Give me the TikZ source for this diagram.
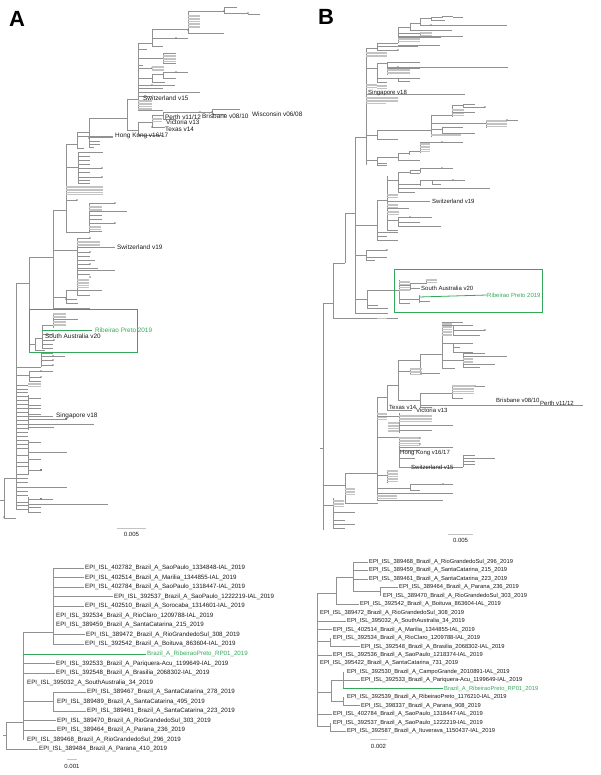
\documentclass[tikz,border=0pt]{standalone}
\usepackage{fontspec}
\setmainfont{Liberation Sans}
\usepackage{xcolor}
\usepackage{tikz}
\usetikzlibrary{positioning}
\definecolor{brgray}{RGB}{145,145,145}
\definecolor{stgray}{RGB}{195,195,195}
\definecolor{rpgreen}{RGB}{52,168,90}
\definecolor{lbgray}{RGB}{25,25,25}
% tree helpers: vertical, horizontal, stack of collapsed tips, node dot
\newcommand{\vl}[3]{\draw[br] (#1,#2) -- (#1,#3);}
\newcommand{\hl}[3]{\draw[br] (#2,#1) -- (#3,#1);}
\newcommand{\stk}[4]{\foreach \k in {1,...,#3} \draw[st] (#1,{#2+1.6*(\k-1)}) -- ++(#4,0);}
\newcommand{\nd}[2]{\fill[brgray!85!black] (#1,#2) circle (0.9pt);}

\begin{document}
\begin{tikzpicture}[x=1pt, y=-1pt,
  br/.style={draw=brgray, line width=0.45pt},
  st/.style={draw=stgray, line width=0.8pt},
  hi/.style={draw=rpgreen, line width=0.8pt},
  lab/.style={anchor=west, inner sep=0pt, text=lbgray, font=\fontsize{6.4}{7}\selectfont},
  labB/.style={lab, font=\fontsize{6.0}{7}\selectfont},
  leafL/.style={anchor=west, inner xsep=1.5pt, inner ysep=0pt, text=lbgray, font=\fontsize{6.2}{7}\selectfont},
  leafR/.style={leafL, font=\fontsize{5.8}{7}\selectfont},
  panel/.style={font=\fontsize{22}{22}\selectfont\bfseries},
  scl/.style={text=lbgray, font=\fontsize{6}{7}\selectfont}]
\useasboundingbox (0,0) rectangle (600,775);

\node[panel] (pA) at (17,19) {A};
\node[panel] (pB) at (326,17) {B};

% ---------------- tree A ----------------
\vl{4}{478}{518} \hl{500}{0}{4} \hl{478}{4}{16} \hl{518}{4}{16} \nd{4}{517}
\vl{16}{283}{509}
\hl{283}{16}{29} \vl{29}{257}{344}
\hl{257}{29}{53} \vl{53}{210}{308}
\hl{210}{53}{66} \vl{66}{144}{232}
\hl{144}{66}{77} \vl{77}{132}{148}
\hl{132}{77}{89} \vl{89}{118}{147}
\hl{118}{89}{127} \vl{127}{99}{130}
\hl{99}{127}{138} \vl{138}{43}{110}
\hl{43}{138}{152} \vl{152}{29}{47}
\hl{29}{152}{188} \vl{188}{11}{33}
\hl{11}{188}{224} \vl{224}{7}{13} \nd{224}{11}
\hl{7}{224}{237} \hl{13}{224}{248} \nd{248}{13} \hl{14}{248}{260}
\stk{188}{15}{9}{12} \hl{33}{188}{224} \nd{188}{30}
\hl{38}{152}{188} \nd{176}{38} \hl{46}{152}{163}
\hl{49}{138}{147}
\hl{58}{138}{163} \vl{163}{53}{63} \hl{53}{163}{176} \hl{63}{163}{176} \stk{163}{55}{5}{13}
\hl{65}{138}{143}
\hl{68}{138}{152} \nd{152}{68} \stk{152}{66}{4}{12}
\hl{78}{138}{152} \vl{152}{74}{82} \hl{74}{152}{163} \vl{163}{72}{78}
\hl{72}{163}{188} \nd{176}{72} \hl{78}{163}{176} \hl{82}{152}{165}
\hl{85}{138}{152} \nd{152}{85} \hl{85}{152}{175}
\hl{88}{138}{163} \hl{92}{138}{200} \hl{96}{138}{152}
\stk{138}{100}{7}{14} \hl{110}{138}{163}
% Perth / Brisbane clade
\hl{130}{127}{138} \vl{138}{122}{135}
\hl{122}{138}{152} \vl{152}{115}{127}
\hl{115}{152}{163} \vl{163}{112}{119}
\hl{112}{163}{200} \nd{200}{112} \hl{112}{200}{212} \vl{212}{109}{114} \nd{212}{112}
\hl{109}{212}{240} \hl{114}{212}{226}
\hl{119}{163}{176} \stk{152}{118}{3}{10}
\hl{127}{152}{165} \nd{152}{127}
\hl{135}{138}{163}
% Hong Kong area
\hl{136}{77}{113} \hl{148}{77}{84}
\hl{137}{89}{113} \nd{89}{138} \hl{141}{89}{100} \hl{144}{89}{100} \hl{147}{89}{94}
\hl{167}{66}{78} \vl{78}{152}{183}
\hl{152}{78}{103} \hl{156}{78}{90} \hl{160}{78}{90} \hl{164}{78}{90}
\hl{168}{78}{102} \nd{102}{168} \hl{172}{78}{90} \hl{177}{78}{102} \nd{102}{177}
\hl{180}{78}{90} \hl{183}{78}{90}
\stk{66}{186}{6}{37}
\hl{200}{66}{77} \nd{77}{200}
\hl{232}{66}{89} \vl{89}{203}{233}
\hl{203}{89}{115} \nd{115}{203} \stk{89}{206}{4}{13}
\hl{211}{89}{127} \hl{215}{89}{102} \hl{219}{89}{102}
\hl{223}{89}{115} \nd{115}{223} \stk{89}{226}{3}{12} \hl{231}{89}{102}
% Switzerland v19 clade
\hl{250}{53}{77} \vl{77}{238}{295}
\hl{238}{77}{90} \nd{90}{238} \stk{77}{241}{5}{23}
\hl{247}{77}{115}
\hl{252}{77}{90} \nd{90}{252} \hl{256}{77}{90} \hl{260}{77}{95}
\hl{264}{77}{90} \nd{90}{264} \hl{268}{77}{98} \hl{270}{77}{115}
\hl{274}{77}{90} \nd{90}{277} \stk{77}{279}{6}{12}
\hl{290}{77}{102} \hl{295}{77}{90}
\hl{297}{53}{66} \vl{66}{290}{303}
\hl{290}{66}{90} \hl{299}{66}{77} \nd{66}{299} \hl{303}{66}{78}
\hl{308}{53}{90}
% boxed clade
\hl{344}{29}{35} \vl{35}{338}{350} \hl{350}{35}{45}
\hl{338}{35}{42} \vl{42}{325}{348}
\hl{325}{42}{53} \vl{53}{313}{328} \stk{53}{313}{9}{13} \hl{319}{53}{78}
\hl{334}{42}{53} \nd{53}{334} \hl{340}{42}{54} \nd{54}{340}
\hl{344}{42}{53} \hl{348}{42}{53}
% lower trunk
\hl{367}{16}{41} \vl{41}{353}{367}
\hl{353}{41}{53} \hl{356}{41}{65} \nd{53}{356}
\hl{360}{41}{53} \nd{53}{360} \hl{365}{41}{53} \nd{53}{365}
\hl{375}{16}{29} \vl{29}{371}{381}
\hl{371}{29}{53} \nd{41}{371} \hl{377}{29}{41} \nd{41}{377} \hl{381}{29}{41}
\foreach \y in {385,389,392,396,400,404,408,412,420,428,432,436,440,444,448,455,462,466,474,478,482,491,495,502}
  \hl{\y}{16}{28}
\vl{28}{395}{430} \vl{28}{440}{475} \hl{505}{16}{28} \vl{28}{497}{512}
\stk{28}{383}{3}{13}
\hl{398}{28}{41} \hl{405}{28}{41} \hl{408}{28}{41} \hl{414}{28}{41}
\hl{416}{16}{53}
\hl{419}{28}{66} \nd{66}{419}
\hl{424}{16}{94}
\hl{427}{28}{54}
\hl{442}{28}{41} \hl{452}{28}{67} \hl{459}{28}{41}
\hl{470}{28}{41} \nd{41}{470}
\hl{487}{16}{67}
\hl{499}{28}{41} \nd{41}{499} \hl{499}{41}{53}
\hl{504}{28}{108} \hl{507}{28}{41} \hl{512}{28}{41}
\hl{509}{16}{28}
% scale A
\draw[st] (117,528) -- (146,528);
\node[scl] (sA) at (131.5,534) {0.005};

% labels A
\node[lab] (sw15A) at (143,98) {Switzerland v15};
\node[lab] (perA) at (165,117) {Perth v11/12};
\node[lab] (briA) at (202,116) {Brisbane v08/10};
\node[lab] (wisA) at (252,114) {Wisconsin v06/08};
\node[lab] (vicA) at (166,122) {Victoria v13};
\node[lab] (texA) at (165,129) {Texas v14};
\node[lab] (hkA) at (115,136) {Hong Kong v16/17};
\node[lab] (sw19A) at (117,247) {Switzerland v19};
\node[lab] (saA) at (45,336) {South Australia v20};
\node[lab, text=rpgreen] (rpA) at (95,330) {Ribeirao Preto 2019};
\draw[hi] (42,330) -- (92,330);
\node[lab] (sgA) at (56,416) {Singapore v18};
\draw[rpgreen, line width=0.7pt] (29,309) rectangle (137,352);

% ---------------- tree B ----------------
\vl{323}{303}{530} \hl{448}{320}{323}
\hl{303}{323}{333} \vl{333}{263}{318}
\hl{263}{333}{345} \vl{345}{213}{263}
\hl{213}{345}{355} \vl{355}{137}{313}
\hl{137}{355}{366} \vl{366}{48}{165}
% top clade
\hl{48}{366}{377} \vl{377}{43}{50}
\hl{43}{377}{398} \vl{398}{27}{43}
\hl{27}{398}{410} \vl{410}{23}{30}
\hl{23}{410}{420} \vl{420}{18}{25}
\hl{18}{420}{431} \vl{431}{17}{20} \hl{17}{431}{442} \hl{20}{431}{445}
\vl{442}{16}{18} \hl{16}{442}{453} \hl{17}{453}{463}
\hl{25}{420}{431} \nd{431}{25} \hl{25}{431}{507}
\hl{30}{410}{452}
\hl{33}{398}{420} \vl{420}{32}{37} \stk{420}{32}{3}{12}
\hl{36}{398}{463} \hl{37}{398}{441} \stk{398}{38}{3}{22}
\hl{45}{398}{440} \hl{46}{377}{418} \hl{50}{377}{398} \nd{398}{50}
\stk{366}{52}{4}{21}
\hl{68}{366}{377} \vl{377}{63}{82}
\hl{63}{377}{387} \vl{387}{62}{75}
\hl{62}{387}{420} \hl{67}{387}{398} \nd{398}{67} \hl{67}{398}{508}
\hl{68}{387}{420} \stk{387}{69}{4}{23}
\hl{78}{377}{398} \vl{398}{78}{82} \hl{78}{398}{420} \hl{81}{398}{410}
\hl{82}{377}{387}
\stk{366}{84}{3}{11} \stk{377}{85}{3}{10}
\hl{94}{366}{465}
\stk{366}{97}{4}{32} \stk{366}{100}{3}{20}
\hl{135}{366}{377} \vl{377}{130}{139}
\hl{139}{377}{398}
\hl{130}{377}{431} \vl{431}{115}{137}
\hl{115}{431}{452} \vl{452}{105}{117}
\hl{105}{452}{463} \vl{463}{104}{107} \hl{104}{463}{475} \hl{107}{463}{485} \nd{485}{107}
\stk{452}{109}{5}{12} \hl{112}{452}{475}
\hl{123}{431}{486} \vl{486}{120}{128} \stk{486}{120}{5}{21} \nd{507}{120} \hl{120}{507}{518}
\hl{129}{431}{442} \vl{442}{127}{133} \hl{127}{442}{463} \hl{133}{442}{475}
\stk{431}{134}{2}{30}
\hl{160}{366}{377} \vl{377}{157}{165}
\hl{157}{377}{398} \vl{398}{153}{160}
\hl{153}{398}{409} \vl{409}{151}{155}
\hl{151}{409}{420} \vl{420}{142}{153} \stk{420}{143}{6}{10}
\hl{142}{420}{442} \nd{442}{142} \hl{142}{442}{463}
\hl{160}{398}{420} \hl{163}{377}{387} \hl{165}{377}{387}
% Switzerland v19 clade
\hl{225}{355}{377} \vl{377}{200}{240}
\hl{200}{377}{387} \vl{387}{176}{230}
\hl{180}{387}{398} \vl{398}{172}{192}
\hl{172}{398}{410} \vl{410}{170}{174}
\hl{170}{410}{420} \vl{420}{168}{173} \hl{168}{420}{442} \nd{442}{168} \hl{168}{442}{453}
\hl{173}{410}{420}
\hl{184}{398}{420} \vl{420}{180}{186} \hl{180}{420}{432} \vl{432}{180}{184}
\hl{180}{432}{453} \nd{453}{180} \hl{180}{453}{465} \hl{184}{432}{441}
\hl{188}{398}{490} \hl{192}{398}{415}
\stk{387}{194}{3}{11}
\hl{201}{387}{430}
\stk{387}{204}{3}{11} \hl{208}{387}{409} \stk{387}{211}{3}{12}
\hl{220}{387}{398} \vl{398}{217}{226}
\hl{217}{398}{410} \nd{410}{217} \hl{217}{410}{432} \hl{222}{398}{420} \hl{226}{398}{441}
\hl{230}{387}{398}
\hl{232}{377}{398} \hl{236}{377}{387} \hl{240}{377}{398}
\hl{255}{355}{366} \vl{366}{250}{260}
\hl{250}{366}{387} \nd{387}{250} \hl{257}{366}{387} \hl{260}{366}{375}
% boxed clade B
\hl{299}{355}{367} \vl{367}{290}{308}
\hl{290}{367}{399} \vl{399}{280}{303}
\stk{399}{281}{7}{11}
\hl{285}{399}{410} \vl{410}{283}{290}
\hl{283}{410}{426} \vl{426}{279}{284} \stk{426}{279}{3}{11}
\hl{288}{410}{420}
\hl{299}{399}{419} \vl{419}{295}{303}
\hl{301}{419}{430} \hl{303}{399}{410}
\hl{305}{367}{378} \hl{308}{367}{388}
\hl{313}{355}{388}
\hl{318}{333}{398} \draw[st] (377,318) -- (387,318);
% lower half of B
\hl{505}{323}{333} \vl{333}{498}{528}
\stk{333}{500}{5}{11}
\hl{512}{333}{355} \hl{520}{333}{345} \hl{524}{333}{355} \hl{528}{333}{345}
\hl{485}{323}{345} \vl{345}{473}{503}
\stk{345}{488}{5}{10}
\hl{503}{345}{378}
\hl{473}{345}{377} \vl{377}{397}{500}
\hl{397}{377}{387} \vl{387}{385}{410}
\hl{385}{387}{398} \vl{398}{360}{400}
\hl{410}{387}{412}
\hl{360}{398}{420} \vl{420}{354}{373}
\hl{354}{420}{442} \vl{442}{322}{368}
\hl{322}{442}{463} \stk{442}{323}{9}{10}
\hl{325}{442}{453} \vl{453}{325}{335}
\hl{325}{453}{473} \hl{330}{453}{485} \nd{485}{330} \hl{335}{453}{480}
\hl{343}{442}{453} \vl{453}{343}{352} \hl{343}{453}{473} \hl{347}{453}{460} \hl{352}{453}{473}
\hl{360}{442}{463} \vl{463}{353}{367}
\hl{353}{463}{485} \hl{356}{463}{507} \stk{463}{358}{4}{10} \hl{364}{463}{495} \hl{367}{463}{480}
\hl{368}{442}{455} \hl{373}{420}{440}
\hl{371}{398}{410} \vl{410}{368}{375} \stk{410}{368}{5}{12}
\hl{400}{398}{420} \vl{420}{393}{407}
\hl{393}{420}{452} \vl{452}{385}{398}
\stk{452}{385}{6}{22} \nd{475}{386} \hl{386}{475}{485}
\hl{398}{452}{463}
\hl{405}{420}{583}
\hl{407}{420}{432}
\stk{377}{413}{5}{10}
\hl{416}{377}{399} \vl{399}{413}{433}
\stk{399}{415}{5}{33}
\hl{425}{399}{453} \stk{388}{422}{7}{11} \hl{430}{399}{432}
\hl{437}{377}{399} \vl{399}{437}{467}
\stk{399}{437}{6}{21} \nd{420}{438} \nd{420}{444}
\hl{447}{399}{453} \hl{450}{399}{420} \hl{458}{399}{415}
\hl{467}{399}{463} \vl{463}{455}{467}
\hl{455}{463}{475} \hl{458}{463}{495} \hl{461}{463}{475} \hl{464}{463}{475}
\hl{475}{377}{387} \vl{387}{470}{483} \stk{387}{470}{8}{11}
\hl{488}{377}{410} \vl{410}{484}{490}
\hl{484}{410}{443} \nd{443}{484} \hl{484}{443}{453} \hl{490}{410}{420}
\hl{493}{377}{453} \stk{377}{495}{3}{20} \hl{500}{377}{443}
% scale B
\draw[st] (448,534) -- (473,534);
\node[scl] (sB) at (460.5,540) {0.005};

% labels B
\node[labB] (sgB) at (368,93) {Singapore v18};
\node[labB] (sw19B) at (432,201) {Switzerland v19};
\node[labB] (saB) at (421,288) {South Australia v20};
\node[labB, text=rpgreen] (rpB) at (487,295) {Ribeirao Preto 2019};
\draw[hi] (419,297) -- (rpB.west);
\node[labB] (briB) at (496,400) {Brisbane v08/10};
\node[labB] (perB) at (540,403) {Perth v11/12};
\node[labB] (texB) at (389,407) {Texas v14};
\node[labB] (vicB) at (416,410) {Victoria v13};
\node[labB] (hkB) at (400,453) {Hong Kong v16/17};
\node[labB] (sw15B) at (411,467) {Switzerland v15};
\draw[rpgreen, line width=0.7pt] (394,269) rectangle (542,312);

% ---------------- bottom left tree ----------------
\node[leafL] (e01) at (83.5,568) {EPI\_ISL\_402782\_Brazil\_A\_SaoPaulo\_1334848-IAL\_2019};
\node[leafL] (e02) at (83.5,577.5) {EPI\_ISL\_402514\_Brazil\_A\_Marilia\_1344855-IAL\_2019};
\node[leafL] (e03) at (83.5,587) {EPI\_ISL\_402784\_Brazil\_A\_SaoPaulo\_1318447-IAL\_2019};
\node[leafL] (e04) at (112.5,596.5) {EPI\_ISL\_392537\_Brazil\_A\_SaoPaulo\_1222219-IAL\_2019};
\node[leafL] (e05) at (83.5,606) {EPI\_ISL\_402510\_Brazil\_A\_Sorocaba\_1314601-IAL\_2019};
\node[leafL] (e06) at (54.5,615.5) {EPI\_ISL\_392534\_Brazil\_A\_RioClaro\_1209788-IAL\_2019};
\node[leafL] (e07) at (54.5,625) {EPI\_ISL\_389459\_Brazil\_A\_SantaCatarina\_215\_2019};
\node[leafL] (e08) at (84.5,634.5) {EPI\_ISL\_389472\_Brazil\_A\_RioGrandedoSul\_308\_2019};
\node[leafL] (e09) at (83.5,644) {EPI\_ISL\_392542\_Brazil\_A\_Boituva\_863604-IAL\_2019};
\node[leafL, text=rpgreen] (rpC) at (145.5,654) {Brazil\_A\_RibeiraoPreto\_RP01\_2019};
\node[leafL] (e10) at (54.5,663.5) {EPI\_ISL\_392533\_Brazil\_A\_Pariquera-Acu\_1199649-IAL\_2019};
\node[leafL] (e11) at (54.5,673) {EPI\_ISL\_392548\_Brazil\_A\_Brasilia\_2068302-IAL\_2019};
\node[leafL] (e12) at (25.5,682.5) {EPI\_ISL\_395032\_A\_SouthAustralia\_34\_2019};
\node[leafL] (e13) at (85.5,692) {EPI\_ISL\_389467\_Brazil\_A\_SantaCatarina\_278\_2019};
\node[leafL] (e14) at (55.5,701.5) {EPI\_ISL\_389489\_Brazil\_A\_SantaCatarina\_495\_2019};
\node[leafL] (e15) at (85.5,711) {EPI\_ISL\_389461\_Brazil\_A\_SantaCatarina\_223\_2019};
\node[leafL] (e16) at (55.5,720.5) {EPI\_ISL\_389470\_Brazil\_A\_RioGrandedoSul\_303\_2019};
\node[leafL] (e17) at (55.5,730) {EPI\_ISL\_389464\_Brazil\_A\_Parana\_236\_2019};
\node[leafL] (e18) at (25.5,739.5) {EPI\_ISL\_389468\_Brazil\_A\_RioGrandedoSul\_296\_2019};
\node[leafL] (e19) at (37.5,749) {EPI\_ISL\_389484\_Brazil\_A\_Parana\_410\_2019};
\vl{53}{568}{644} \hl{632}{23}{53} \vl{23}{632}{739.5}
\foreach \n/\y in {e01/568,e02/577.5,e03/587,e04/596.5,e05/606,e08/634.5,e09/644}
  \draw[br] (53,\y) -- (\n.west);
\draw[hi] (23,654) -- (rpC.west);
\foreach \n/\y in {e10/663.5,e11/673,e16/720.5,e17/730}
  \draw[br] (23,\y) -- (\n.west);
\hl{701.5}{23}{53} \vl{53}{692}{711}
\draw[br] (53,692) -- (e13.west);
\draw[br] (53,711) -- (e15.west);
\vl{6}{722}{749} \hl{722}{6}{23} \hl{735}{3}{6}
\draw[br] (6,749) -- (e19.west);
\draw[st] (67,759) -- (77,759);
\node[scl] (sC) at (72,766) {0.001};

% ---------------- bottom right tree ----------------
\node[leafR] (f01) at (367.5,562) {EPI\_ISL\_389468\_Brazil\_A\_RioGrandedoSul\_296\_2019};
\node[leafR] (f02) at (367.5,570.4) {EPI\_ISL\_389459\_Brazil\_A\_SantaCatarina\_215\_2019};
\node[leafR] (f03) at (367.5,578.9) {EPI\_ISL\_389461\_Brazil\_A\_SantaCatarina\_223\_2019};
\node[leafR] (f04) at (397.5,587.3) {EPI\_ISL\_389464\_Brazil\_A\_Parana\_236\_2019};
\node[leafR] (f05) at (381.5,595.8) {EPI\_ISL\_389470\_Brazil\_A\_RioGrandedoSul\_303\_2019};
\node[leafR] (f06) at (358.5,604.2) {EPI\_ISL\_392542\_Brazil\_A\_Boituva\_863604-IAL\_2019};
\node[leafR] (f07) at (318.5,612.7) {EPI\_ISL\_389472\_Brazil\_A\_RioGrandedoSul\_308\_2019};
\node[leafR] (f08) at (345.5,621.1) {EPI\_ISL\_395032\_A\_SouthAustralia\_34\_2019};
\node[leafR] (f09) at (331.5,629.6) {EPI\_ISL\_402514\_Brazil\_A\_Marilia\_1344855-IAL\_2019};
\node[leafR] (f10) at (331.5,638) {EPI\_ISL\_392534\_Brazil\_A\_RioClaro\_1209788-IAL\_2019};
\node[leafR] (f11) at (359.5,646.5) {EPI\_ISL\_392548\_Brazil\_A\_Brasilia\_2068302-IAL\_2019};
\node[leafR] (f12) at (331.5,655) {EPI\_ISL\_392536\_Brazil\_A\_SaoPaulo\_1218374-IAL\_2019};
\node[leafR] (f13) at (318.5,663.4) {EPI\_ISL\_395422\_Brazil\_A\_SantaCatarina\_731\_2019};
\node[leafR] (f14) at (345.5,671.8) {EPI\_ISL\_392530\_Brazil\_A\_CampoGrande\_2010891-IAL\_2019};
\node[leafR] (f15) at (359.5,680.3) {EPI\_ISL\_392533\_Brazil\_A\_Pariquera-Acu\_1199649-IAL\_2019};
\node[leafR, text=rpgreen] (rpD) at (442.5,688.7) {Brazil\_A\_RibeiraoPreto\_RP01\_2019};
\node[leafR] (f16) at (345.5,697.2) {EPI\_ISL\_392539\_Brazil\_A\_RibeiraoPreto\_1176210-IAL\_2019};
\node[leafR] (f17) at (359.5,705.6) {EPI\_ISL\_398337\_Brazil\_A\_Parana\_908\_2019};
\node[leafR] (f18) at (331.5,714.1) {EPI\_ISL\_402784\_Brazil\_A\_SaoPaulo\_1318447-IAL\_2019};
\node[leafR] (f19) at (331.5,722.5) {EPI\_ISL\_392537\_Brazil\_A\_SaoPaulo\_1222219-IAL\_2019};
\node[leafR] (f20) at (345.5,731) {EPI\_ISL\_392587\_Brazil\_A\_Ituverava\_1150437-IAL\_2019};
\vl{317}{593}{726}
\hl{593}{317}{336} \vl{336}{577}{604.2}
\hl{577}{336}{353} \vl{353}{562}{591}
\foreach \n/\y in {f01/562,f02/570.4,f03/578.9}
  \draw[br] (353,\y) -- (\n.west);
\hl{591}{353}{380} \vl{380}{587.3}{595.8}
\draw[br] (380,587.3) -- (f04.west);
\draw[br] (336,604.2) -- (f06.west);
\foreach \n/\y in {f08/621.1,f09/629.6,f12/655,f18/714.1}
  \draw[br] (317,\y) -- (\n.west);
\hl{641}{317}{330} \vl{330}{638}{646.5}
\draw[br] (330,646.5) -- (f11.west);
\hl{692}{317}{331} \vl{331}{680.3}{701}
\hl{680.3}{331}{343} \vl{343}{671.8}{688.7}
\draw[br] (343,680.3) -- (f15.west);
\draw[hi] (343,688.7) -- (rpD.west);
\hl{701}{331}{343} \vl{343}{697.2}{705.6}
\draw[br] (343,705.6) -- (f17.west);
\hl{726}{317}{330} \vl{330}{722.5}{731}
\draw[br] (330,731) -- (f20.west);
\draw[st] (370,739) -- (387,739);
\node[scl] (sD) at (378.5,746) {0.002};
\end{tikzpicture}
\end{document}
